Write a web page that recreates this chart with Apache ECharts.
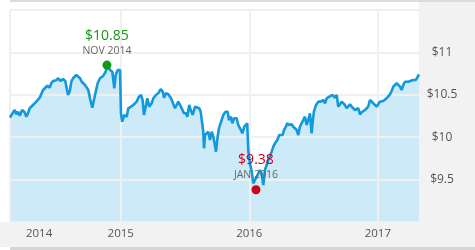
<!DOCTYPE html>
<html><head><meta charset="utf-8">
<script src="https://cdn.jsdelivr.net/npm/echarts@6/dist/echarts.min.js"></script>
<style>
html,body{margin:0;padding:0;background:#fff;}
#wrap{position:relative;width:475px;height:250px;overflow:hidden;background:#fff;}
.p{position:absolute;}
#chart{position:absolute;left:0;top:0;width:475px;height:250px;}
</style></head><body>
<div id="wrap">
<div class="p" style="left:10px;top:0;width:465px;height:2px;background:#dcdcdc"></div>
<div class="p" style="left:419px;top:2px;width:56px;height:220px;background:#f2f2f2"></div>
<div class="p" style="left:0;top:222px;width:475px;height:25px;background:#f2f2f2"></div>
<div class="p" style="left:10px;top:247px;width:465px;height:3px;background:#d6d6d6"></div>
<div id="chart"></div>
</div>
<script>
// Dates as decimal years, prices in dollars
const dates = [2014.139,2014.163,2014.176,2014.188,2014.201,2014.215,2014.233,2014.253,2014.266,2014.279,2014.292,2014.318,2014.344,2014.370,2014.383,2014.396,2014.409,2014.429,2014.448,2014.460,2014.474,2014.487,2014.499,2014.512,2014.533,2014.551,2014.569,2014.580,2014.590,2014.603,2014.616,2014.629,2014.655,2014.666,2014.684,2014.697,2014.709,2014.722,2014.736,2014.748,2014.761,2014.779,2014.795,2014.806,2014.821,2014.839,2014.865,2014.883,2014.896,2014.917,2014.935,2014.950,2014.961,2014.977,2014.995,2015.002,2015.012,2015.028,2015.047,2015.059,2015.080,2015.098,2015.111,2015.124,2015.142,2015.158,2015.170,2015.181,2015.197,2015.207,2015.222,2015.241,2015.254,2015.274,2015.292,2015.311,2015.327,2015.337,2015.352,2015.370,2015.383,2015.397,2015.409,2015.422,2015.435,2015.448,2015.461,2015.474,2015.492,2015.508,2015.518,2015.533,2015.544,2015.560,2015.578,2015.591,2015.611,2015.622,2015.632,2015.642,2015.648,2015.656,2015.669,2015.681,2015.694,2015.708,2015.720,2015.733,2015.741,2015.754,2015.764,2015.785,2015.798,2015.816,2015.832,2015.842,2015.858,2015.868,2015.883,2015.902,2015.914,2015.928,2015.946,2015.961,2015.972,2015.984,2015.992,2016.005,2016.019,2016.031,2016.044,2016.058,2016.070,2016.083,2016.096,2016.109,2016.122,2016.148,2016.174,2016.187,2016.200,2016.208,2016.218,2016.233,2016.244,2016.260,2016.270,2016.285,2016.295,2016.311,2016.330,2016.342,2016.355,2016.369,2016.381,2016.394,2016.407,2016.420,2016.433,2016.446,2016.459,2016.472,2016.485,2016.493,2016.503,2016.519,2016.537,2016.555,2016.575,2016.589,2016.602,2016.622,2016.633,2016.649,2016.666,2016.680,2016.692,2016.705,2016.719,2016.731,2016.744,2016.757,2016.770,2016.783,2016.796,2016.809,2016.822,2016.835,2016.848,2016.861,2016.874,2016.886,2016.900,2016.913,2016.925,2016.939,2016.952,2016.964,2016.977,2016.991,2017.003,2017.016,2017.030,2017.042,2017.055,2017.068,2017.081,2017.094,2017.107,2017.120,2017.133,2017.146,2017.159,2017.172,2017.185,2017.198,2017.211,2017.224,2017.236,2017.250,2017.275,2017.296,2017.306,2017.320];
const prices = [10.230,10.294,10.321,10.270,10.301,10.254,10.321,10.294,10.242,10.282,10.341,10.380,10.419,10.466,10.478,10.557,10.577,10.607,10.584,10.636,10.663,10.686,10.671,10.695,10.663,10.686,10.663,10.577,10.498,10.537,10.654,10.695,10.733,10.725,10.695,10.654,10.675,10.616,10.596,10.557,10.459,10.348,10.459,10.537,10.636,10.695,10.725,10.772,10.840,10.792,10.772,10.577,10.733,10.792,10.792,10.282,10.183,10.262,10.242,10.341,10.360,10.380,10.360,10.419,10.478,10.498,10.439,10.262,10.380,10.459,10.360,10.400,10.459,10.498,10.518,10.568,10.537,10.466,10.518,10.506,10.478,10.439,10.459,10.341,10.360,10.419,10.439,10.341,10.282,10.282,10.242,10.380,10.321,10.262,10.360,10.348,10.341,10.301,10.282,10.065,9.869,10.026,10.014,10.065,9.967,10.065,10.006,9.908,9.829,10.006,10.105,10.203,10.262,10.301,10.301,10.203,10.242,10.164,10.223,10.223,10.144,10.105,10.046,10.124,10.105,10.164,9.849,9.692,9.593,9.456,9.436,9.534,9.534,9.613,9.574,9.436,9.613,9.731,9.829,9.888,9.928,9.908,9.967,10.026,10.046,10.026,10.085,10.124,10.164,10.144,10.152,10.124,10.136,10.085,10.026,10.124,10.144,10.203,10.242,10.144,10.203,10.282,10.046,10.183,10.301,10.380,10.419,10.419,10.439,10.400,10.459,10.478,10.459,10.498,10.466,10.498,10.360,10.341,10.419,10.439,10.380,10.341,10.360,10.388,10.360,10.380,10.321,10.341,10.341,10.270,10.294,10.282,10.321,10.341,10.360,10.439,10.459,10.400,10.419,10.360,10.388,10.419,10.400,10.427,10.419,10.459,10.478,10.506,10.545,10.596,10.616,10.636,10.624,10.596,10.557,10.616,10.654,10.647,10.654,10.663,10.675,10.675,10.702,10.742];

// Highlighted extremes
const extremeDates = [2014.893, 2016.052];
const extremeValues = [10.85, 9.38];
const extremeValueLabels = ['$10.85', '$9.38'];
const extremePeriodLabels = ['NOV 2014', 'JAN 2016'];

// Axes
const xMin = 2014.139, xMax = 2017.320;
const xGridValues = [2014.139, 2015, 2016, 2017];
const xLabelPositions = [2014.365, 2015, 2016, 2017];
const xTickLabels = ['2014', '2015', '2016', '2017'];
const yMin = 9, yMax = 11.5, yStep = 0.5;
const yLabelValues = [9.5, 10, 10.5, 11];
const yTickLabels = ['$9.5', '$10', '$10.5', '$11'];

const FONT = "'Open Sans', 'Noto Sans', sans-serif";
const chart = echarts.init(document.getElementById('chart'), null, {renderer: 'canvas'});
const lineData = dates.map((d, i) => [d, prices[i]]);
const extremeColors = ['#119911', '#d0021b'];

const option = {
  animation: false,
  backgroundColor: 'transparent',
  grid: {left: 10, right: 56, top: 10, bottom: 28},
  xAxis: {
    type: 'value', min: xMin, max: xMax, z: 2,
    axisLine: {show: false},
    axisTick: {show: false, customValues: xGridValues},
    splitLine: {show: true, lineStyle: {color: '#f0f0f0', width: 2}},
    axisLabel: {
      customValues: xLabelPositions,
      formatter: (v) => {
        const i = xLabelPositions.findIndex(p => Math.abs(p - v) < 1e-6);
        return i >= 0 ? xTickLabels[i] : '';
      },
      color: '#555', fontSize: 11.5, fontFamily: FONT, margin: 6
    }
  },
  yAxis: {
    type: 'value', position: 'right', min: yMin, max: yMax, interval: yStep, z: 2,
    axisLine: {show: false}, axisTick: {show: false},
    splitLine: {show: true, lineStyle: {color: '#f0f0f0', width: 2}},
    axisLabel: {
      customValues: yLabelValues,
      formatter: (v) => {
        const i = yLabelValues.findIndex(p => Math.abs(p - v) < 1e-6);
        return i >= 0 ? yTickLabels[i] : '';
      },
      color: '#555', fontSize: 12, fontFamily: FONT, align: 'center', margin: 23
    }
  },
  series: [
    {
      type: 'line', data: lineData, z: 1, showSymbol: false, silent: true,
      lineStyle: {width: 0}, areaStyle: {color: '#cdeaf8', origin: 'start', opacity: 1}
    },
    {
      type: 'line', data: lineData, z: 3, showSymbol: false, silent: true,
      lineStyle: {width: 2.6, color: '#1199dc'}
    },
    {
      type: 'scatter', z: 4, symbolSize: 9,
      data: extremeDates.map((d, i) => ({
        value: [d, extremeValues[i]],
        itemStyle: {color: extremeColors[i], opacity: 1},
        label: {
          show: true, position: 'top', distance: 3,
          formatter: '{v|' + extremeValueLabels[i] + '}\n{d|' + extremePeriodLabels[i] + '}',
          rich: {
            v: {color: extremeColors[i], fontSize: 14, fontWeight: 500, fontFamily: FONT, lineHeight: 16, align: 'center'},
            d: {color: '#666', fontSize: 10.5, fontFamily: FONT, lineHeight: 14, align: 'center'}
          }
        }
      }))
    }
  ]
};
chart.setOption(option);
</script>
</body></html>
